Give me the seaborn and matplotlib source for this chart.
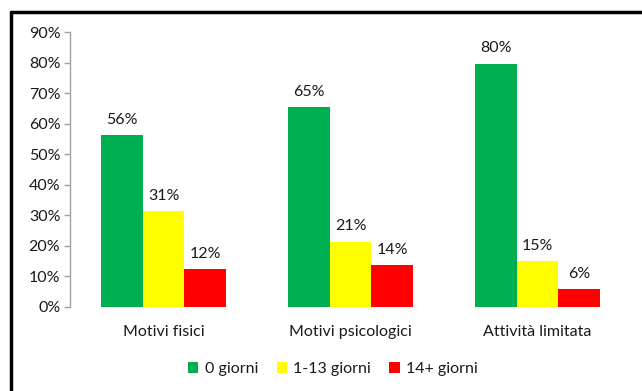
import matplotlib
matplotlib.use("Agg")
import matplotlib.pyplot as plt
import seaborn as sns
import pandas as pd
from matplotlib.lines import Line2D
from matplotlib.patches import Patch

categories = ["Motivi fisici", "Motivi psicologici", "Attività limitata"]
series = ["0 giorni", "1-13 giorni", "14+ giorni"]
vals_0 = [56.2, 65.3, 79.6]
vals_1_13 = [31.3, 21.4, 15.1]
vals_14 = [12.4, 13.7, 5.9]
colors = ["#00B050", "#FFFF00", "#FF0000"]
yticks = [0, 10, 20, 30, 40, 50, 60, 70, 80, 90]

rows = []
for s, vals in zip(series, [vals_0, vals_1_13, vals_14]):
    for c, v in zip(categories, vals):
        rows.append({"cat": c, "serie": s, "val": v})
df = pd.DataFrame(rows)

sns.set_style("white")
plt.rcParams['font.family'] = ['Lato', 'DejaVu Sans']

FS = 11.5
TXT = "#1a1a1a"

fig = plt.figure(figsize=(6.42, 3.91), dpi=100)
ax = fig.add_axes([70/642, 1-307/391, (631-70)/642, (307-32)/391])
sns.barplot(data=df, x="cat", y="val", hue="serie", palette=colors,
            width=0.666, order=categories, hue_order=series, ax=ax,
            saturation=1, legend=False, linewidth=0, edgecolor="none")

for cont in ax.containers:
    ax.bar_label(cont, labels=[f"{b.get_height():.0f}%" for b in cont],
                 padding=6, fontsize=FS, color=TXT)

ax.set_ylim(0, 90)
ax.set_xlim(-0.5, 2.5)
ax.set_yticks(yticks)
ax.set_yticklabels([f"{t}%" for t in yticks], fontsize=FS, color=TXT)
ax.tick_params(axis="y", length=4, color="#a0a0a0", width=1, pad=3, left=True)
ax.tick_params(axis="x", length=0, pad=13, labelsize=FS, labelcolor=TXT)
ax.set_xlabel("")
ax.set_ylabel("")
for sp in ["top", "right", "bottom"]:
    ax.spines[sp].set_visible(False)
ax.spines["left"].set_color("#a0a0a0")
ax.spines["left"].set_linewidth(1)

handles = [Patch(facecolor=c, edgecolor="none", label=s) for c, s in zip(colors, series)]
fig.legend(handles=handles, loc="center", bbox_to_anchor=(333/642, 1-369/391),
           ncol=3, frameon=False, fontsize=FS, handlelength=0.65, handleheight=0.65,
           handletextpad=0.4, columnspacing=1.15, labelcolor=TXT)

# outer border (top and left visible)
fig.add_artist(Line2D([11/642, 1.0], [1-12/391, 1-12/391], color="black", lw=2.5, transform=fig.transFigure))
fig.add_artist(Line2D([11/642, 11/642], [0, 1-12/391], color="black", lw=2.5, transform=fig.transFigure))

fig.savefig("out.png", dpi=100)
